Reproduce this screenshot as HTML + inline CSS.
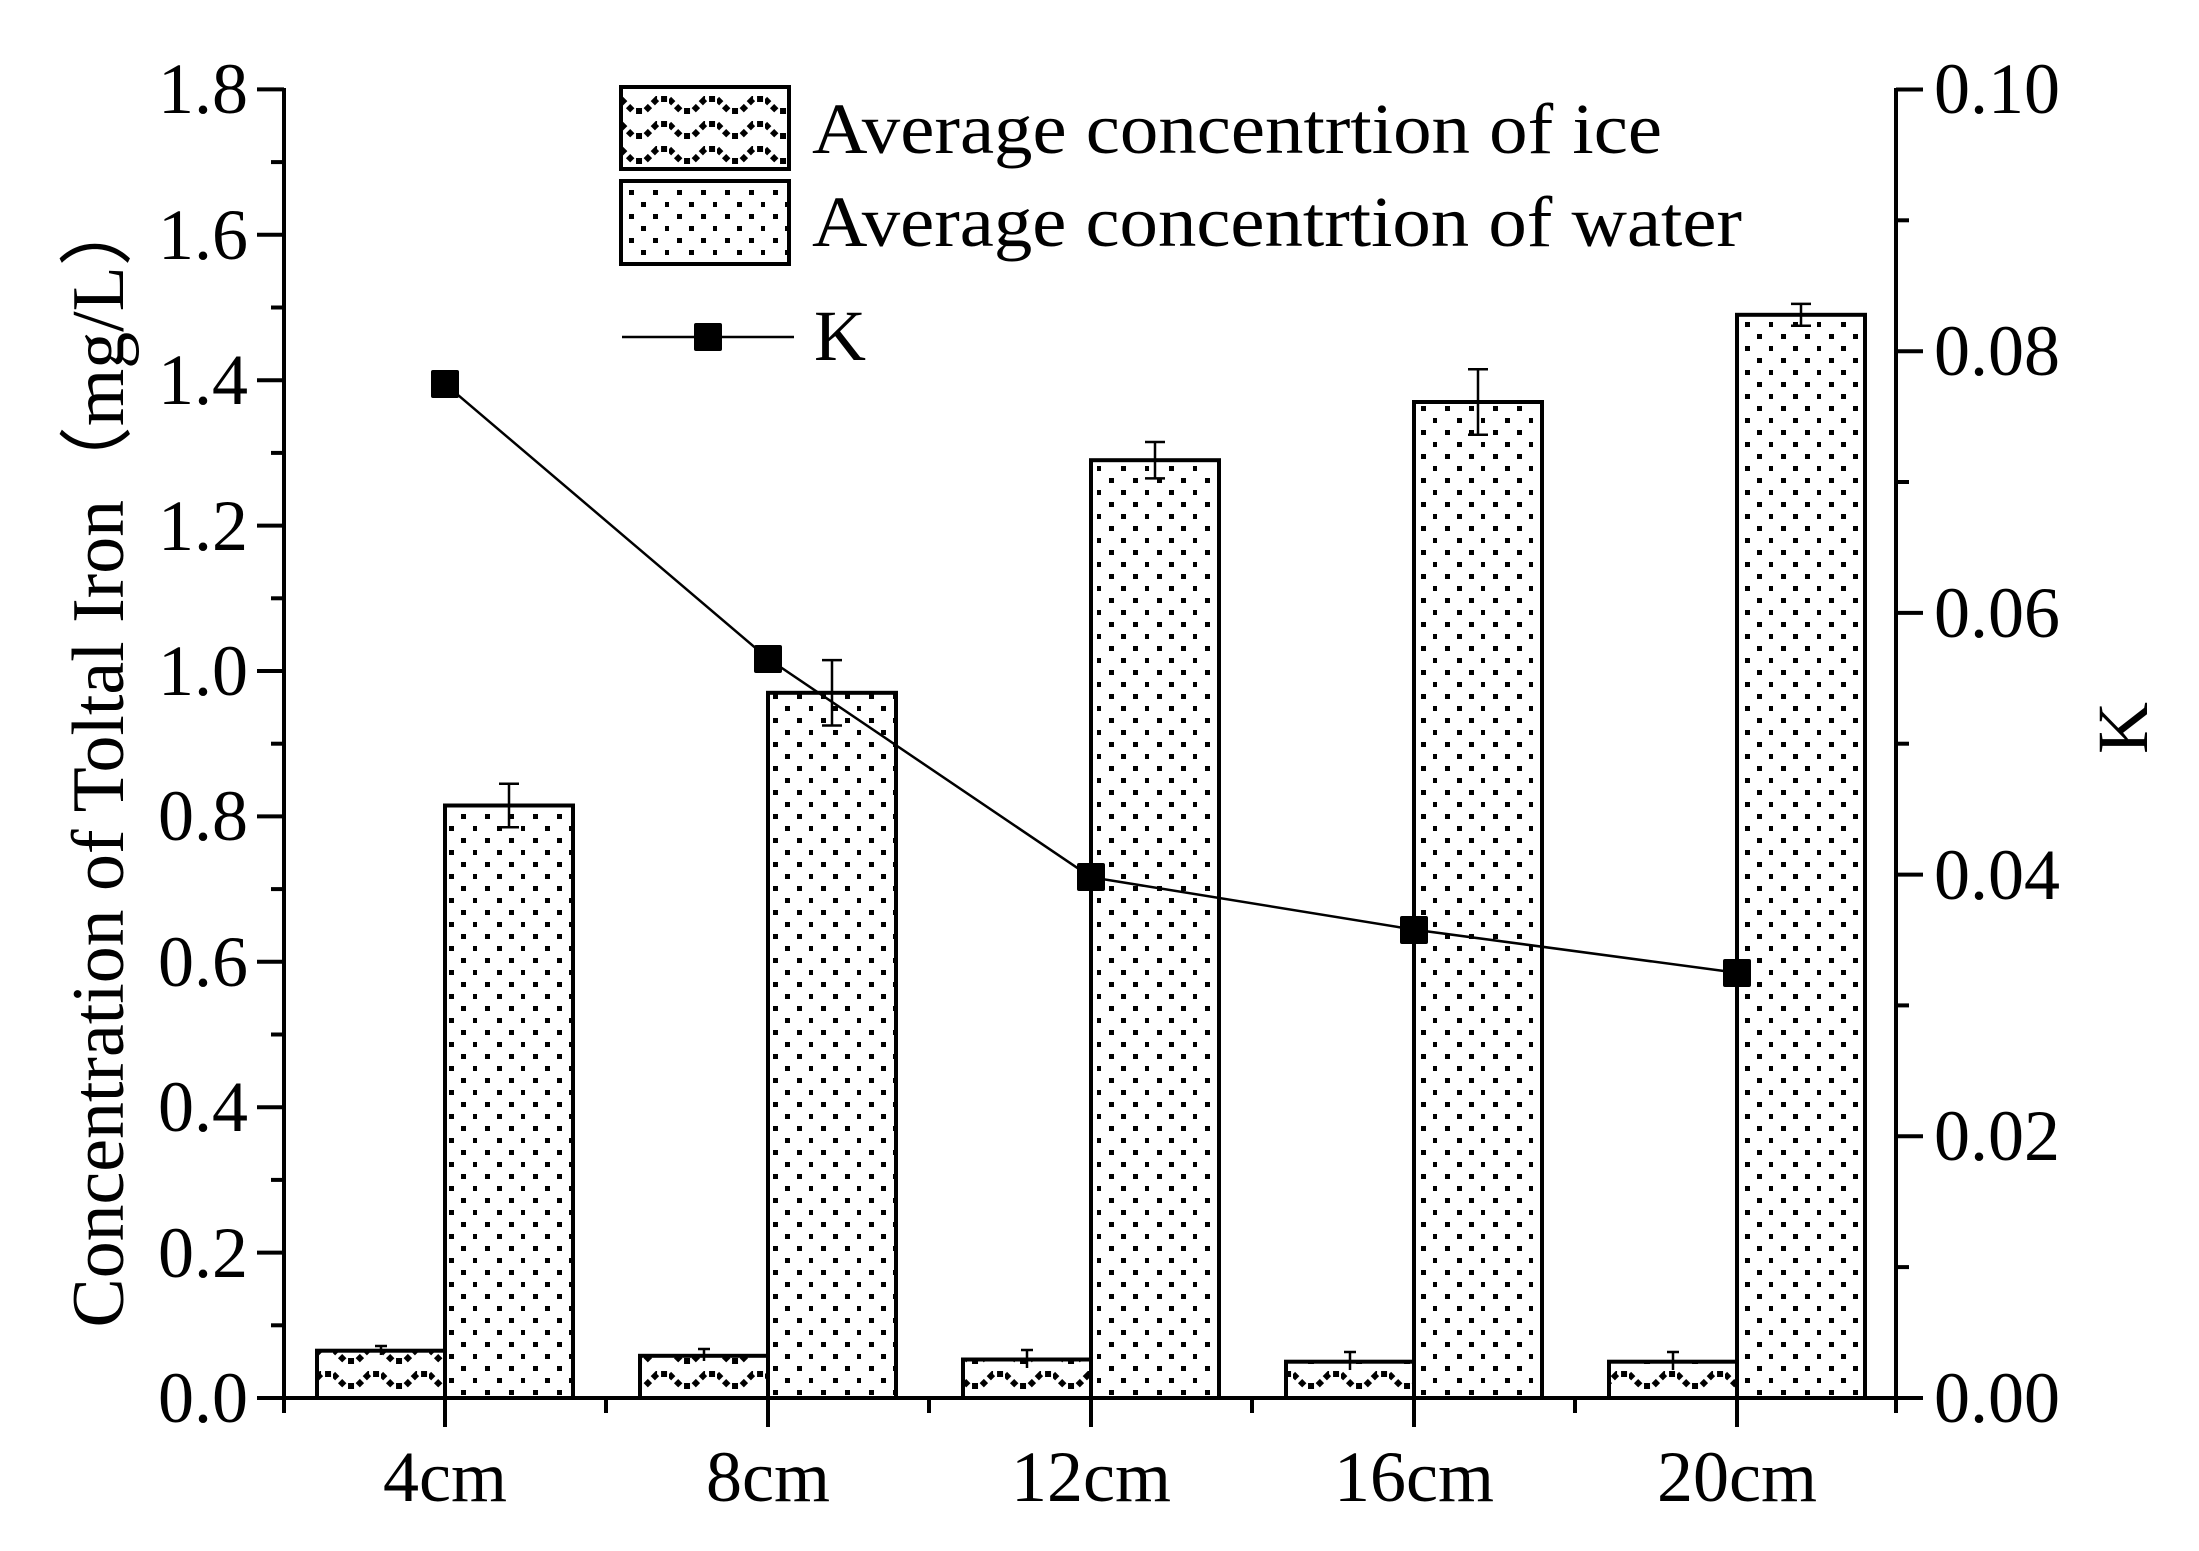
<!DOCTYPE html>
<html><head><meta charset="utf-8"><style>html,body{margin:0;padding:0;background:#fff}svg{display:block}</style></head>
<body>
<svg width="2199" height="1551" viewBox="0 0 2199 1551" xmlns="http://www.w3.org/2000/svg" font-family="Liberation Serif, serif">
<defs>
<pattern id="wave" width="48" height="25" patternUnits="userSpaceOnUse">
<rect width="48" height="25" fill="#fff"/>
<polyline points="0,4 12,16 24,16 36,4 48,4" fill="none" stroke="#000" stroke-width="6" stroke-dasharray="6 4"/>
</pattern>
<pattern id="dots" width="48" height="24" patternUnits="userSpaceOnUse">
<rect width="48" height="24" fill="#fff"/>
<rect x="8" y="3" width="5" height="5" fill="#000"/>
<rect x="32" y="3" width="5" height="5" fill="#000"/>
<rect x="20" y="15" width="5" height="5" fill="#000"/>
<rect x="44" y="15" width="5" height="5" fill="#000"/>
</pattern>
</defs>
<g transform="translate(-3,-5)">
<g stroke="#000" stroke-width="4" fill="none">
<line x1="287" y1="93" x2="287" y2="1403"/>
<line x1="1899" y1="93" x2="1899" y2="1403"/>
<line x1="287" y1="1403" x2="1899" y2="1403"/>
</g>
<g stroke="#000" stroke-width="4">
<line x1="260" y1="1403" x2="287" y2="1403"/><line x1="260" y1="1257.6" x2="287" y2="1257.6"/><line x1="260" y1="1112.2" x2="287" y2="1112.2"/><line x1="260" y1="966.8" x2="287" y2="966.8"/><line x1="260" y1="821.4" x2="287" y2="821.4"/><line x1="260" y1="676" x2="287" y2="676"/><line x1="260" y1="530.6" x2="287" y2="530.6"/><line x1="260" y1="385.2" x2="287" y2="385.2"/><line x1="260" y1="239.8" x2="287" y2="239.8"/><line x1="260" y1="94.4" x2="287" y2="94.4"/>
<line x1="274" y1="1330.3" x2="287" y2="1330.3"/><line x1="274" y1="1184.9" x2="287" y2="1184.9"/><line x1="274" y1="1039.5" x2="287" y2="1039.5"/><line x1="274" y1="894.1" x2="287" y2="894.1"/><line x1="274" y1="748.7" x2="287" y2="748.7"/><line x1="274" y1="603.3" x2="287" y2="603.3"/><line x1="274" y1="457.9" x2="287" y2="457.9"/><line x1="274" y1="312.5" x2="287" y2="312.5"/><line x1="274" y1="167.1" x2="287" y2="167.1"/>
<line x1="1899" y1="1403" x2="1926" y2="1403"/><line x1="1899" y1="1141.3" x2="1926" y2="1141.3"/><line x1="1899" y1="879.6" x2="1926" y2="879.6"/><line x1="1899" y1="617.9" x2="1926" y2="617.9"/><line x1="1899" y1="356.2" x2="1926" y2="356.2"/><line x1="1899" y1="94.5" x2="1926" y2="94.5"/>
<line x1="1899" y1="1272.1" x2="1912" y2="1272.1"/><line x1="1899" y1="1010.4" x2="1912" y2="1010.4"/><line x1="1899" y1="748.7" x2="1912" y2="748.7"/><line x1="1899" y1="487" x2="1912" y2="487"/><line x1="1899" y1="225.3" x2="1912" y2="225.3"/>
<line x1="287" y1="1403" x2="287" y2="1418"/>
<line x1="448" y1="1403" x2="448" y2="1432"/><line x1="771" y1="1403" x2="771" y2="1432"/><line x1="1094" y1="1403" x2="1094" y2="1432"/><line x1="1417" y1="1403" x2="1417" y2="1432"/><line x1="1740" y1="1403" x2="1740" y2="1432"/>
<line x1="609" y1="1403" x2="609" y2="1418"/><line x1="932" y1="1403" x2="932" y2="1418"/><line x1="1255" y1="1403" x2="1255" y2="1418"/><line x1="1578" y1="1403" x2="1578" y2="1418"/><line x1="1899" y1="1403" x2="1899" y2="1418"/>
</g>
<g stroke="#000" stroke-width="4">
<rect x="320" y="1355.7" width="128" height="47.3" fill="url(#wave)"/>
<rect x="643" y="1360.8" width="128" height="42.2" fill="url(#wave)"/>
<rect x="966" y="1364.5" width="128" height="38.5" fill="url(#wave)"/>
<rect x="1289" y="1366.7" width="128" height="36.3" fill="url(#wave)"/>
<rect x="1612" y="1366.7" width="128" height="36.3" fill="url(#wave)"/>
<rect x="448" y="810.5" width="128" height="592.5" fill="url(#dots)"/>
<rect x="771" y="697.8" width="128" height="705.2" fill="url(#dots)"/>
<rect x="1094" y="465.2" width="128" height="937.8" fill="url(#dots)"/>
<rect x="1417" y="407" width="128" height="996" fill="url(#dots)"/>
<rect x="1740" y="319.8" width="128" height="1083.2" fill="url(#dots)"/>
</g>
<g stroke="#000" stroke-width="2.5">
<path d="M512 788.7V832.3M502 788.7H522M502 832.3H522"/>
<path d="M835 665.1V730.5M825 665.1H845M825 730.5H845"/>
<path d="M1158 447V483.4M1148 447H1168M1148 483.4H1168"/>
<path d="M1481 374.3V439.7M1471 374.3H1491M1471 439.7H1491"/>
<path d="M1804 308.9V330.7M1794 308.9H1814M1794 330.7H1814"/>
<path d="M384 1351V1360M378 1351H390"/>
<path d="M707 1354V1366M701 1354H713"/>
<path d="M1030 1355V1373M1024 1355H1036"/>
<path d="M1353 1357V1375M1347 1357H1359"/>
<path d="M1676 1357V1375M1670 1357H1682"/>
</g>
<polyline points="448,388.9 771,663.6 1094,882.2 1417,934.6 1740,977.8" fill="none" stroke="#000" stroke-width="2.5"/>
<g fill="#000">
<rect x="434" y="375" width="28" height="28" rx="2"/>
<rect x="757" y="650" width="28" height="28" rx="2"/>
<rect x="1080" y="868" width="28" height="28" rx="2"/>
<rect x="1403" y="921" width="28" height="28" rx="2"/>
<rect x="1726" y="964" width="28" height="28" rx="2"/>
</g>
<rect x="624" y="92" width="168" height="82" fill="url(#wave)" stroke="#000" stroke-width="4"/>
<rect x="624" y="186" width="168" height="83" fill="url(#dots)" stroke="#000" stroke-width="4"/>
<line x1="625" y1="342" x2="797" y2="342" stroke="#000" stroke-width="2.5"/>
<rect x="697" y="328" width="28" height="28" rx="2" fill="#000"/>
<g font-size="72" fill="#000">
<text x="815" y="158" textLength="850" lengthAdjust="spacingAndGlyphs">Average concentrtion of ice</text>
<text x="815" y="251" textLength="930" lengthAdjust="spacingAndGlyphs">Average concentrtion of water</text>
<text x="817" y="365">K</text>
<g text-anchor="end">
<text x="251" y="1427">0.0</text><text x="251" y="1282">0.2</text><text x="251" y="1136">0.4</text><text x="251" y="991">0.6</text><text x="251" y="845">0.8</text><text x="251" y="700">1.0</text><text x="251" y="555">1.2</text><text x="251" y="409">1.4</text><text x="251" y="264">1.6</text><text x="251" y="118">1.8</text>
</g>
<g>
<text x="1937" y="1427">0.00</text><text x="1937" y="1165">0.02</text><text x="1937" y="904">0.04</text><text x="1937" y="642">0.06</text><text x="1937" y="380">0.08</text><text x="1937" y="118">0.10</text>
</g>
<g text-anchor="middle">
<text x="448" y="1506">4cm</text><text x="771" y="1506">8cm</text><text x="1094" y="1506">12cm</text><text x="1417" y="1506">16cm</text><text x="1740" y="1506">20cm</text>
</g>
<text transform="translate(126,765) rotate(-90)" text-anchor="middle" font-size="74" textLength="1135" lengthAdjust="spacingAndGlyphs">Concentration of Toltal Iron（mg/L）</text>
<text transform="translate(2150,733) rotate(-90)" text-anchor="middle">K</text>
</g>
</g>
</svg>
</body></html>
